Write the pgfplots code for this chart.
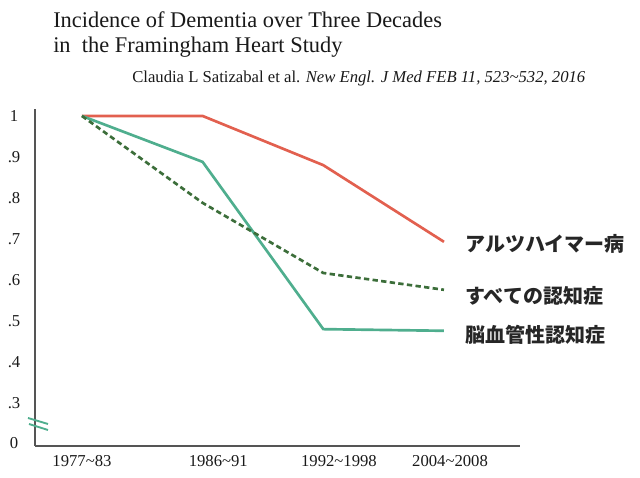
\documentclass[border=0pt]{standalone}
\usepackage{fontspec}
\setmainfont{Liberation Serif}
\newfontfamily\cjk{Noto Sans CJK JP}
\usepackage{pgfplots}
\usepackage{pgfplotstable}
\pgfplotsset{compat=1.18}

\definecolor{alzred}{HTML}{E2604F}
\definecolor{vascgreen}{HTML}{4FAE8E}
\definecolor{alldash}{HTML}{3C6E3A}
\definecolor{axisgray}{HTML}{555555}

% incidence relative to 1977~83
\pgfplotstableread{
x alz all vasc
0 1.000 1.000 1.000
1 1.000 0.788 0.888
2 0.880 0.617 0.480
3 0.693 0.576 0.476
}\incidence

\begin{document}
\begin{tikzpicture}[x=0.75pt,y=0.75pt]
\useasboundingbox (0,0) rectangle (640,478);
\begin{axis}[
  at={(26.25pt,24pt)}, anchor=south west,
  scale only axis,
  width=363.75pt, height=252.75pt,
  xmin=-0.389, xmax=3.63, ymin=0.195, ymax=1.017,
  axis x line*=bottom, axis y line*=left,
  axis line style={-, axisgray, line width=1.5pt},
  major tick length=0,
  clip=false,
  xtick={0,1.13,2.13,3.05},
  xticklabels={1977\textasciitilde 83,1986\textasciitilde 91,1992\textasciitilde 1998,2004\textasciitilde 2008},
  ytick={0.202,0.3,0.4,0.5,0.6,0.7,0.8,0.9,1},
  yticklabels={0,.3,.4,.5,.6,.7,.8,.9,1},
  tick label style={font=\fontsize{12.5pt}{14pt}\selectfont, text=black!90},
  xticklabel style={anchor=base, yshift=-15.75pt},
  yticklabel style={anchor=center, xshift=-15.75pt},
  /pgf/number format/assume math mode=true,
]
\addplot[alzred, line width=2pt] table[x=x,y=alz]{\incidence};
\addplot[vascgreen, line width=2pt] table[x=x,y=vasc]{\incidence};
\addplot[alldash, line width=2pt, dash pattern=on 4pt off 2.5pt] table[x=x,y=all]{\incidence};
\end{axis}
% axis break
\draw[vascgreen, line width=1.4pt] (28,60) -- (48,54);
\draw[vascgreen, line width=1.4pt] (29,54) -- (48,48);
% titles
\node[anchor=base west, inner sep=0pt, text=black!90] at (53,450)
  {\fontsize{16.8pt}{18pt}\selectfont Incidence of Dementia over Three Decades};
\node[anchor=base west, inner sep=0pt, text=black!90] at (53,425)
  {\fontsize{16.8pt}{18pt}\selectfont in\ \ the Framingham Heart Study};
\node[anchor=base west, inner sep=0pt, text=black!90] at (132,395)
  {\fontsize{12.5pt}{14pt}\selectfont Claudia L Satizabal et al. \textit{New Engl. J Med FEB 11, 523\textasciitilde 532, 2016}};
% series names
\node[anchor=west, inner sep=0pt, text=black!85, font=\cjk\bfseries\fontsize{15pt}{18pt}\selectfont] at (465,234) {アルツハイマー病};
\node[anchor=west, inner sep=0pt, text=black!85, font=\cjk\bfseries\fontsize{15pt}{18pt}\selectfont] at (465,182) {すべての認知症};
\node[anchor=west, inner sep=0pt, text=black!85, font=\cjk\bfseries\fontsize{15pt}{18pt}\selectfont] at (465,143) {脳血管性認知症};
\end{tikzpicture}
\end{document}
